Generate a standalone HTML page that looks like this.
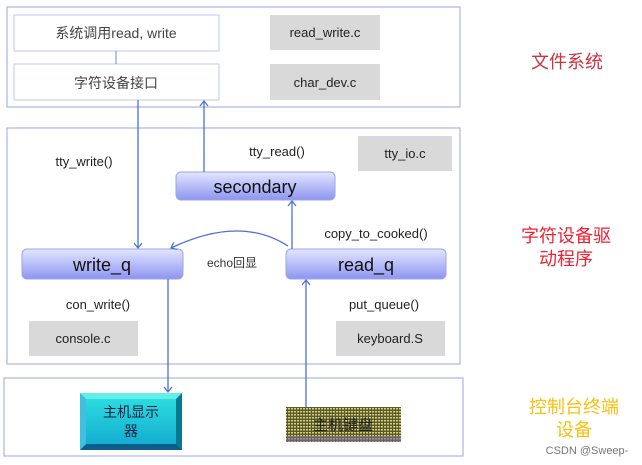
<!DOCTYPE html>
<html><head><meta charset="utf-8"><style>
body{margin:0;background:#fff}
svg{display:block}
text{font-family:"Liberation Sans","Noto Sans CJK SC",sans-serif}
</style></head><body>
<svg width="642" height="465" viewBox="0 0 642 465" xmlns="http://www.w3.org/2000/svg">
<defs>
<linearGradient id="q" x1="0" y1="0" x2="0" y2="1">
<stop offset="0" stop-color="#e4e6ff"/><stop offset="1" stop-color="#8d95f0"/></linearGradient>
<linearGradient id="m" x1="0" y1="0" x2="0" y2="1">
<stop offset="0" stop-color="#30e0e0"/><stop offset="1" stop-color="#10a8d0"/></linearGradient>
<pattern id="kb" width="3" height="3" patternUnits="userSpaceOnUse">
<rect width="3" height="3" fill="#5a5a30"/><rect width="2" height="1.5" fill="#d8d070"/></pattern>
<marker id="a" markerWidth="10" markerHeight="10" refX="7" refY="5" orient="auto" markerUnits="userSpaceOnUse">
<path d="M2,1 L7,5 L2,9" fill="none" stroke="#4a6ee0" stroke-width="1.2"/></marker>
</defs>
<g fill="none" stroke="#a8b4e8" stroke-width="1.2">
<rect x="7" y="7" width="453" height="100"/>
<rect x="7" y="128" width="453" height="236"/>
<rect x="4" y="378" width="459" height="78"/>
</g>
<rect x="14" y="15" width="205" height="36" fill="#fff" stroke="#bcc8f0"/>
<rect x="14" y="64" width="205" height="36" fill="#fff" stroke="#bcc8f0"/>
<line x1="116" y1="51" x2="116" y2="64" stroke="#6a88e0"/>
<text x="116" y="38" font-size="14" fill="#444" text-anchor="middle">系统调用read, write</text>
<text x="116" y="88" font-size="14" fill="#444" text-anchor="middle">字符设备接口</text>
<g fill="#d9d9d9"><rect x="270" y="15" width="110" height="35"/><rect x="270" y="64" width="110" height="36"/>
<rect x="358" y="136" width="94" height="35"/><rect x="29" y="321" width="109" height="35"/><rect x="336" y="321" width="109" height="35"/></g>
<g font-size="13" fill="#222" text-anchor="middle">
<text x="325" y="37">read_write.c</text><text x="325" y="87">char_dev.c</text>
<text x="405" y="158">tty_io.c</text><text x="83" y="343">console.c</text><text x="390" y="343">keyboard.S</text>
<text x="84" y="166">tty_write()</text><text x="277" y="156">tty_read()</text>
<text x="376" y="238">copy_to_cooked()</text><text x="98" y="309">con_write()</text><text x="384" y="309">put_queue()</text>
</g>
<text x="232" y="267" font-size="12" fill="#333" text-anchor="middle">echo回显</text>
<g stroke="#9aa4e8"><rect x="176" y="172" width="159" height="28" rx="5" fill="url(#q)"/>
<rect x="22" y="249" width="161" height="30" rx="5" fill="url(#q)"/>
<rect x="286" y="249" width="160" height="30" rx="5" fill="url(#q)"/></g>
<g font-size="18" fill="#111" text-anchor="middle">
<text x="255" y="193">secondary</text><text x="102" y="271">write_q</text><text x="366" y="271">read_q</text></g>
<g stroke="#4a6ee0" stroke-width="1.3" fill="none">
<line x1="138" y1="100" x2="138" y2="248" marker-end="url(#a)"/>
<line x1="204" y1="172" x2="204" y2="101" marker-end="url(#a)"/>
<line x1="292" y1="249" x2="292" y2="201" marker-end="url(#a)"/>
<line x1="168" y1="279" x2="168" y2="392" marker-end="url(#a)"/>
<line x1="306" y1="407" x2="306" y2="280" marker-end="url(#a)"/>
<path d="M288,246 Q240,215 171,248" marker-end="url(#a)"/>
</g>
<rect x="80" y="393" width="102" height="57" fill="url(#m)"/>
<polygon points="80,393 182,393 176,399 86,399" fill="#60f0e8"/>
<polygon points="182,393 182,450 176,444 176,399" fill="#0a7890"/>
<polygon points="80,450 182,450 176,444 86,444" fill="#0a5e88"/>
<polygon points="80,393 86,399 86,444 80,450" fill="#40c0e0"/>
<text x="131" y="417" font-size="14" fill="#124" text-anchor="middle">主机显示</text>
<text x="131" y="436" font-size="14" fill="#124" text-anchor="middle">器</text>
<rect x="286" y="407" width="115" height="35" fill="url(#kb)"/>
<rect x="286" y="436" width="115" height="6" fill="#7a6a90" opacity="0.6"/>
<text x="343" y="430" font-size="15" fill="#222" text-anchor="middle">主机键盘</text>
<g font-size="18" text-anchor="middle">
<text x="567" y="68" fill="#d03040">文件系统</text>
<text x="566" y="242" fill="#f02030">字符设备驱</text>
<text x="566" y="265" fill="#f02030">动程序</text>
<text x="574" y="413" fill="#f8c010">控制台终端</text>
<text x="574" y="436" fill="#f8c010">设备</text></g>
<text x="587" y="454" font-size="11" fill="#777" text-anchor="middle">CSDN @Sweep-</text>
</svg>
</body></html>
